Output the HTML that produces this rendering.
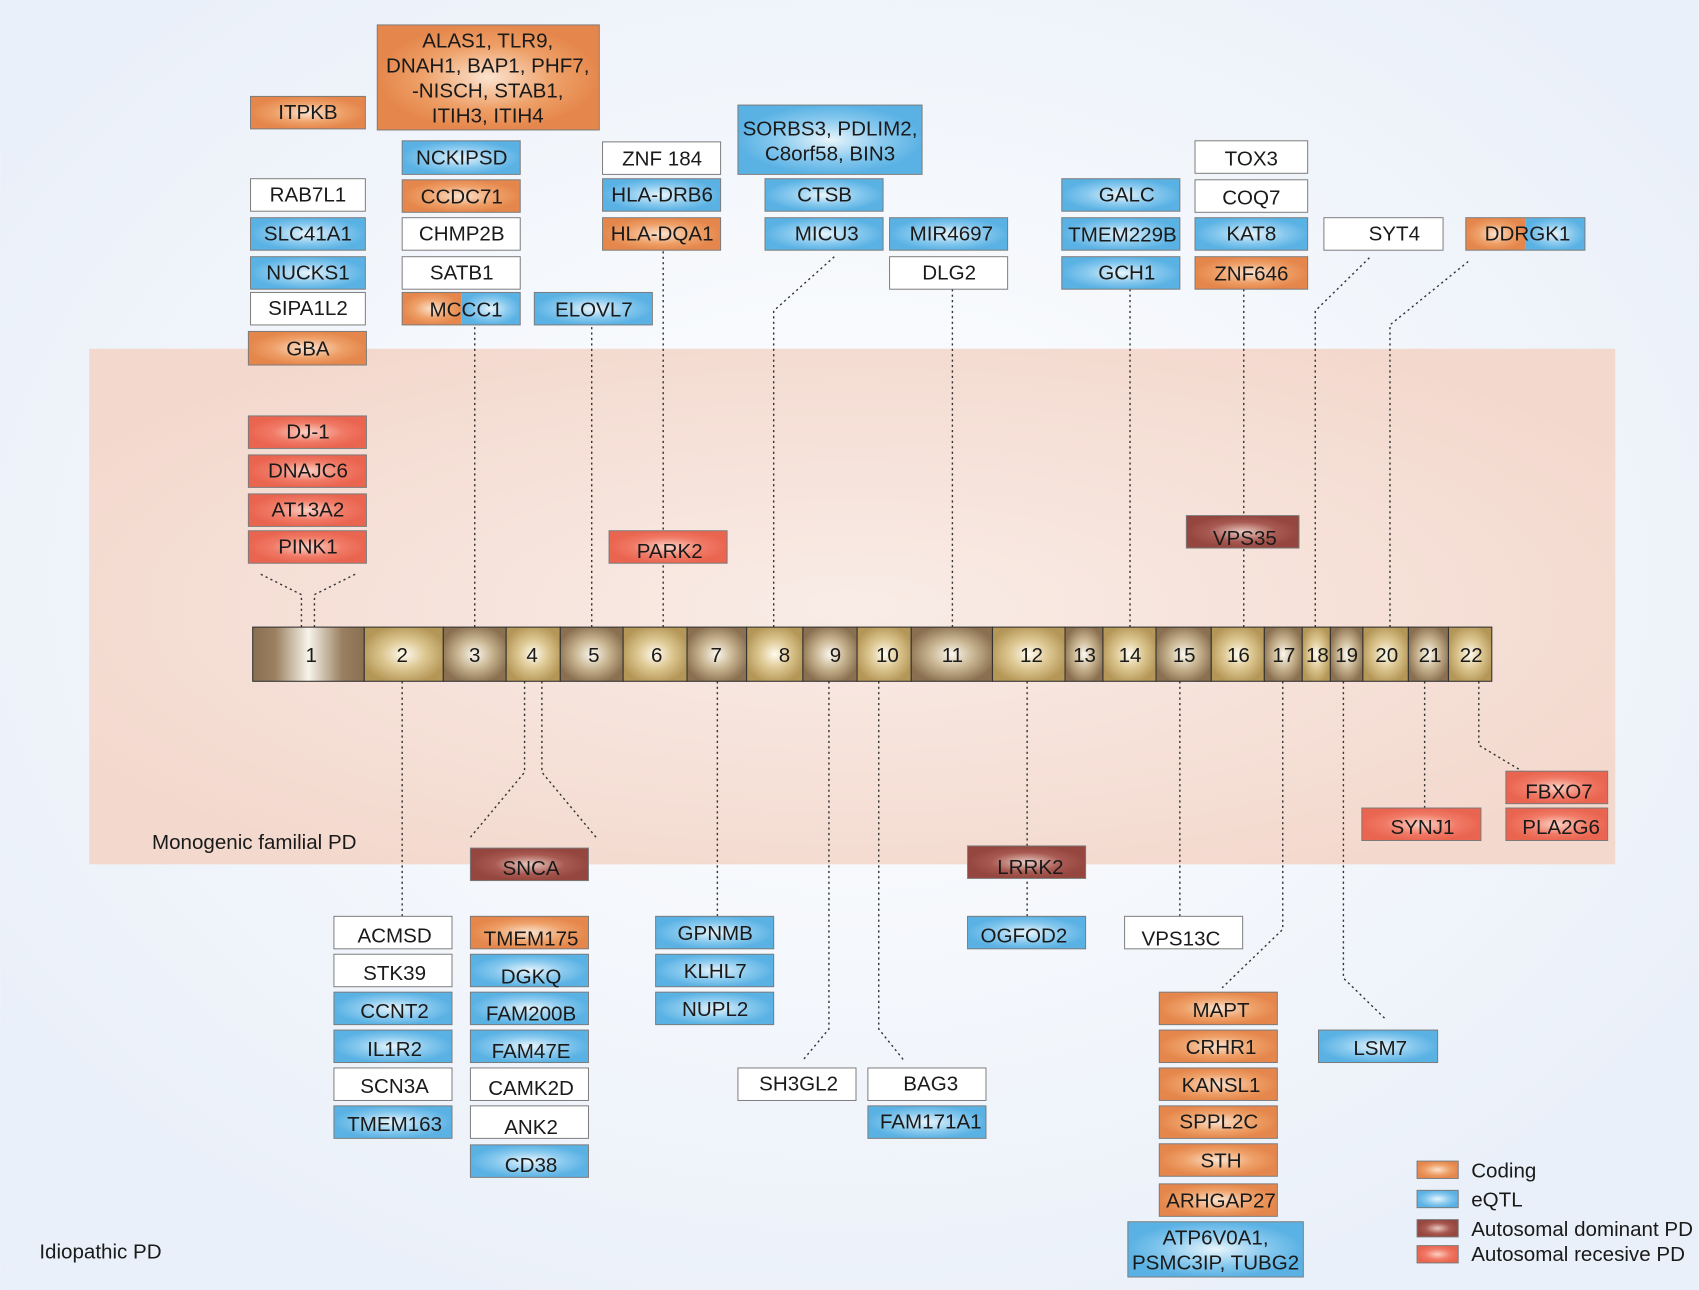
<!DOCTYPE html>
<html><head><meta charset="utf-8"><style>
html,body{margin:0;padding:0;background:#eef3fa;}
svg{display:block;}
text{font-family:"Liberation Sans",Arial,sans-serif;font-size:19px;fill:#1a1a1a;text-anchor:middle;}
.b{stroke:#7a7a7a;stroke-width:0.9;}
.d{stroke:#333;stroke-width:1.3;stroke-dasharray:2,3;fill:none;}
</style></head><body>
<svg width="1699" height="1290" viewBox="0 0 1568 1191" xmlns="http://www.w3.org/2000/svg">
<defs>
<radialGradient id="bg" cx="0.5" cy="0.45" r="0.6"><stop offset="0" stop-color="#ffffff"/><stop offset="1" stop-color="#eaf0f9"/></radialGradient>
<radialGradient id="pk" cx="0.5" cy="0.5" r="0.6"><stop offset="0" stop-color="#f9ece6"/><stop offset="1" stop-color="#f3d8cd"/></radialGradient>
<radialGradient id="o" cx="0.5" cy="0.5" r="0.5"><stop offset="0" stop-color="#fbe3cf"/><stop offset="0.6" stop-color="#eea068"/><stop offset="1" stop-color="#e5874c"/></radialGradient>
<radialGradient id="e" cx="0.5" cy="0.5" r="0.5"><stop offset="0" stop-color="#e8f5fc"/><stop offset="0.6" stop-color="#86c8ee"/><stop offset="1" stop-color="#5ab2e4"/></radialGradient>
<radialGradient id="ad" cx="0.5" cy="0.5" r="0.5"><stop offset="0" stop-color="#e8c8c0"/><stop offset="0.6" stop-color="#a85a52"/><stop offset="1" stop-color="#94463f"/></radialGradient>
<radialGradient id="ar" cx="0.5" cy="0.5" r="0.5"><stop offset="0" stop-color="#fcd0c4"/><stop offset="0.6" stop-color="#f07a66"/><stop offset="1" stop-color="#ea6550"/></radialGradient>
<radialGradient id="c1" cx="0.5" cy="0.5" r="0.55"><stop offset="0" stop-color="#fbf8f0"/><stop offset="0.5" stop-color="#c8b490"/><stop offset="1" stop-color="#8a7050"/></radialGradient>
<radialGradient id="c2" cx="0.5" cy="0.5" r="0.55"><stop offset="0" stop-color="#fffbee"/><stop offset="0.5" stop-color="#dcc690"/><stop offset="1" stop-color="#b49656"/></radialGradient>
<linearGradient id="ch1" x1="0" x2="1" y1="0" y2="0"><stop offset="0" stop-color="#8a7050"/><stop offset="0.2" stop-color="#9a8060"/><stop offset="0.5" stop-color="#f8f4ea"/><stop offset="0.8" stop-color="#9a8060"/><stop offset="1" stop-color="#8a7050"/></linearGradient>
</defs>
<rect width="1568" height="1191" fill="url(#bg)"/>
<rect x="82" y="322" width="1409" height="476" fill="url(#pk)"/>

<polyline class="d" points="278,579 278,549 240,530"/>
<polyline class="d" points="290,579 290,549 328,530"/>
<polyline class="d" points="438,579 438,300"/>
<polyline class="d" points="546,579 546,300"/>
<polyline class="d" points="612,579 612,231"/>
<polyline class="d" points="714,579 714,287 770,237"/>
<polyline class="d" points="879,579 879,267"/>
<polyline class="d" points="1043,579 1043,267"/>
<polyline class="d" points="1148,579 1148,267"/>
<polyline class="d" points="1214,579 1214,287 1265,237"/>
<polyline class="d" points="1283,579 1283,300 1357,240"/>
<polyline class="d" points="371,629 371,846"/>
<polyline class="d" points="484,629 484,713 434,773"/>
<polyline class="d" points="500,629 500,713 550,773"/>
<polyline class="d" points="662,629 662,846"/>
<polyline class="d" points="765,629 765,950 740,980"/>
<polyline class="d" points="811,629 811,950 835,980"/>
<polyline class="d" points="948,629 948,846"/>
<polyline class="d" points="1089,629 1089,846"/>
<polyline class="d" points="1184,629 1184,858 1128,912"/>
<polyline class="d" points="1240,629 1240,903 1278,940"/>
<polyline class="d" points="1315,629 1315,746"/>
<polyline class="d" points="1365,629 1365,688 1405,712"/>

<g stroke="#333" stroke-width="1">
<rect x="233" y="579" width="103" height="50" fill="url(#ch1)"/>
<rect x="336" y="579" width="73" height="50" fill="url(#c2)"/>
<rect x="409" y="579" width="58" height="50" fill="url(#c1)"/>
<rect x="467" y="579" width="50" height="50" fill="url(#c2)"/>
<rect x="517" y="579" width="58" height="50" fill="url(#c1)"/>
<rect x="575" y="579" width="59" height="50" fill="url(#c2)"/>
<rect x="634" y="579" width="55" height="50" fill="url(#c1)"/>
<rect x="689" y="579" width="52" height="50" fill="url(#c2)"/>
<rect x="741" y="579" width="50" height="50" fill="url(#c1)"/>
<rect x="791" y="579" width="50" height="50" fill="url(#c2)"/>
<rect x="841" y="579" width="75" height="50" fill="url(#c1)"/>
<rect x="916" y="579" width="67" height="50" fill="url(#c2)"/>
<rect x="983" y="579" width="35" height="50" fill="url(#c1)"/>
<rect x="1018" y="579" width="49" height="50" fill="url(#c2)"/>
<rect x="1067" y="579" width="51" height="50" fill="url(#c1)"/>
<rect x="1118" y="579" width="49" height="50" fill="url(#c2)"/>
<rect x="1167" y="579" width="35" height="50" fill="url(#c1)"/>
<rect x="1202" y="579" width="26" height="50" fill="url(#c2)"/>
<rect x="1228" y="579" width="30" height="50" fill="url(#c1)"/>
<rect x="1258" y="579" width="42" height="50" fill="url(#c2)"/>
<rect x="1300" y="579" width="37" height="50" fill="url(#c1)"/>
<rect x="1337" y="579" width="40" height="50" fill="url(#c2)"/>
</g>
<g>
<text x="287" y="611">1</text><text x="371" y="611">2</text><text x="438" y="611">3</text><text x="491" y="611">4</text><text x="548" y="611">5</text><text x="606" y="611">6</text><text x="661" y="611">7</text><text x="724" y="611">8</text><text x="771" y="611">9</text><text x="819" y="611">10</text><text x="879" y="611">11</text><text x="952" y="611">12</text><text x="1001" y="611">13</text><text x="1043" y="611">14</text><text x="1093" y="611">15</text><text x="1143" y="611">16</text><text x="1185" y="611">17</text><text x="1216" y="611">18</text><text x="1243" y="611">19</text><text x="1280" y="611">20</text><text x="1320" y="611">21</text><text x="1358" y="611">22</text>
</g>

<g class="b">
<rect x="231" y="89" width="106" height="30" fill="url(#o)"/>
<rect x="231" y="165" width="106" height="30" fill="#fff"/>
<rect x="231" y="201" width="106" height="30" fill="url(#e)"/>
<rect x="231" y="237" width="106" height="30" fill="url(#e)"/>
<rect x="231" y="270" width="106" height="30" fill="#fff"/>
<rect x="229" y="306" width="109" height="31" fill="url(#o)"/>
<rect x="229" y="384" width="109" height="30" fill="url(#ar)"/>
<rect x="229" y="420" width="109" height="30" fill="url(#ar)"/>
<rect x="229" y="456" width="109" height="30" fill="url(#ar)"/>
<rect x="229" y="490" width="109" height="30" fill="url(#ar)"/>
<rect x="348" y="23" width="205" height="97" fill="url(#o)"/>
<rect x="371" y="130" width="109" height="31" fill="url(#e)"/>
<rect x="371" y="166" width="109" height="30" fill="url(#o)"/>
<rect x="371" y="201" width="109" height="30" fill="#fff"/>
<rect x="371" y="237" width="109" height="30" fill="#fff"/>
<rect x="371" y="270" width="55" height="30" fill="url(#o)" stroke="none"/>
<rect x="426" y="270" width="54" height="30" fill="url(#e)" stroke="none"/>
<rect x="371" y="270" width="109" height="30" fill="none"/>
<rect x="493" y="270" width="109" height="30" fill="url(#e)"/>
<rect x="556" y="131" width="109" height="30" fill="#fff"/>
<rect x="556" y="165" width="109" height="30" fill="url(#e)"/>
<rect x="556" y="201" width="109" height="30" fill="url(#o)"/>
<rect x="681" y="97" width="170" height="64" fill="url(#e)"/>
<rect x="706" y="165" width="109" height="30" fill="url(#e)"/>
<rect x="706" y="201" width="109" height="30" fill="url(#e)"/>
<rect x="821" y="201" width="109" height="30" fill="url(#e)"/>
<rect x="821" y="237" width="109" height="30" fill="#fff"/>
<rect x="562" y="490" width="109" height="30" fill="url(#ar)"/>
<rect x="980" y="165" width="109" height="30" fill="url(#e)"/>
<rect x="980" y="201" width="109" height="30" fill="url(#e)"/>
<rect x="980" y="237" width="109" height="30" fill="url(#e)"/>
<rect x="1103" y="130" width="104" height="30" fill="#fff"/>
<rect x="1103" y="166" width="104" height="30" fill="#fff"/>
<rect x="1103" y="201" width="104" height="30" fill="url(#e)"/>
<rect x="1103" y="237" width="104" height="30" fill="url(#o)"/>
<rect x="1222" y="201" width="110" height="30" fill="#fff"/>
<rect x="1353" y="201" width="55" height="30" fill="url(#o)" stroke="none"/>
<rect x="1408" y="201" width="55" height="30" fill="url(#e)" stroke="none"/>
<rect x="1353" y="201" width="110" height="30" fill="none"/>
<rect x="1095" y="476" width="104" height="30" fill="url(#ad)"/>
<rect x="434" y="783" width="109" height="30" fill="url(#ad)"/>
<rect x="893" y="781" width="109" height="30" fill="url(#ad)"/>
<rect x="1390" y="712" width="94" height="30" fill="url(#ar)"/>
<rect x="1390" y="746" width="94" height="30" fill="url(#ar)"/>
<rect x="1257" y="746" width="110" height="30" fill="url(#ar)"/>
<rect x="308" y="846" width="109" height="30" fill="#fff"/>
<rect x="308" y="881" width="109" height="30" fill="#fff"/>
<rect x="308" y="916" width="109" height="30" fill="url(#e)"/>
<rect x="308" y="951" width="109" height="30" fill="url(#e)"/>
<rect x="308" y="986" width="109" height="30" fill="#fff"/>
<rect x="308" y="1021" width="109" height="30" fill="url(#e)"/>
<rect x="434" y="846" width="109" height="30" fill="url(#o)"/>
<rect x="434" y="881" width="109" height="30" fill="url(#e)"/>
<rect x="434" y="916" width="109" height="30" fill="url(#e)"/>
<rect x="434" y="951" width="109" height="30" fill="url(#e)"/>
<rect x="434" y="986" width="109" height="30" fill="#fff"/>
<rect x="434" y="1021" width="109" height="30" fill="#fff"/>
<rect x="434" y="1057" width="109" height="30" fill="url(#e)"/>
<rect x="605" y="846" width="109" height="30" fill="url(#e)"/>
<rect x="605" y="881" width="109" height="30" fill="url(#e)"/>
<rect x="605" y="916" width="109" height="30" fill="url(#e)"/>
<rect x="681" y="986" width="109" height="30" fill="#fff"/>
<rect x="801" y="986" width="109" height="30" fill="#fff"/>
<rect x="801" y="1021" width="109" height="30" fill="url(#e)"/>
<rect x="893" y="846" width="109" height="30" fill="url(#e)"/>
<rect x="1038" y="846" width="109" height="30" fill="#fff"/>
<rect x="1070" y="916" width="109" height="30" fill="url(#o)"/>
<rect x="1070" y="951" width="109" height="30" fill="url(#o)"/>
<rect x="1070" y="986" width="109" height="30" fill="url(#o)"/>
<rect x="1070" y="1021" width="109" height="30" fill="url(#o)"/>
<rect x="1070" y="1056" width="109" height="30" fill="url(#o)"/>
<rect x="1070" y="1093" width="109" height="30" fill="url(#o)"/>
<rect x="1041" y="1128" width="162" height="51" fill="url(#e)"/>
<rect x="1217" y="951" width="110" height="30" fill="url(#e)"/>
<rect x="1308" y="1072" width="38" height="16" fill="url(#o)"/>
<rect x="1308" y="1099" width="38" height="16" fill="url(#e)"/>
<rect x="1308" y="1126" width="38" height="16" fill="url(#ad)"/>
<rect x="1308" y="1150" width="38" height="16" fill="url(#ar)"/>
</g>

<g>
<text x="284" y="110">ITPKB</text>
<text x="284" y="186">RAB7L1</text>
<text x="284" y="222">SLC41A1</text>
<text x="284" y="258">NUCKS1</text>
<text x="284" y="291">SIPA1L2</text>
<text x="284" y="328">GBA</text>
<text x="284" y="405">DJ-1</text>
<text x="284" y="441">DNAJC6</text>
<text x="284" y="477">AT13A2</text>
<text x="284" y="511">PINK1</text>
<text x="450" y="44">ALAS1, TLR9,</text>
<text x="450" y="67">DNAH1, BAP1, PHF7,</text>
<text x="450" y="90">-NISCH, STAB1,</text>
<text x="450" y="113">ITIH3, ITIH4</text>
<text x="426" y="152">NCKIPSD</text>
<text x="426" y="188">CCDC71</text>
<text x="426" y="222">CHMP2B</text>
<text x="426" y="258">SATB1</text>
<text x="430" y="292">MCCC1</text>
<text x="548" y="292">ELOVL7</text>
<text x="611" y="153">ZNF 184</text>
<text x="611" y="186">HLA-DRB6</text>
<text x="611" y="222">HLA-DQA1</text>
<text x="766" y="125">SORBS3, PDLIM2,</text>
<text x="766" y="148">C8orf58, BIN3</text>
<text x="761" y="186">CTSB</text>
<text x="763" y="222">MICU3</text>
<text x="878" y="222">MIR4697</text>
<text x="876" y="258">DLG2</text>
<text x="618" y="515">PARK2</text>
<text x="1040" y="186">GALC</text>
<text x="1036" y="223">TMEM229B</text>
<text x="1040" y="258">GCH1</text>
<text x="1155" y="153">TOX3</text>
<text x="1155" y="189">COQ7</text>
<text x="1155" y="222">KAT8</text>
<text x="1155" y="259">ZNF646</text>
<text x="1287" y="222">SYT4</text>
<text x="1410" y="222">DDRGK1</text>
<text x="1149" y="503">VPS35</text>
<text x="490" y="808">SNCA</text>
<text x="951" y="807">LRRK2</text>
<text x="1439" y="737">FBXO7</text>
<text x="1441" y="770">PLA2G6</text>
<text x="1313" y="770">SYNJ1</text>
<text x="364" y="870">ACMSD</text>
<text x="364" y="905">STK39</text>
<text x="364" y="940">CCNT2</text>
<text x="364" y="975">IL1R2</text>
<text x="364" y="1009">SCN3A</text>
<text x="364" y="1044">TMEM163</text>
<text x="490" y="873">TMEM175</text>
<text x="490" y="908">DGKQ</text>
<text x="490" y="942">FAM200B</text>
<text x="490" y="977">FAM47E</text>
<text x="490" y="1011">CAMK2D</text>
<text x="490" y="1047">ANK2</text>
<text x="490" y="1082">CD38</text>
<text x="660" y="868">GPNMB</text>
<text x="660" y="903">KLHL7</text>
<text x="660" y="938">NUPL2</text>
<text x="737" y="1007">SH3GL2</text>
<text x="859" y="1007">BAG3</text>
<text x="859" y="1042">FAM171A1</text>
<text x="945" y="870">OGFOD2</text>
<text x="1090" y="873">VPS13C</text>
<text x="1127" y="939">MAPT</text>
<text x="1127" y="973">CRHR1</text>
<text x="1127" y="1008">KANSL1</text>
<text x="1125" y="1042">SPPL2C</text>
<text x="1127" y="1078">STH</text>
<text x="1127" y="1115">ARHGAP27</text>
<text x="1122" y="1149">ATP6V0A1,</text>
<text x="1122" y="1172">PSMC3IP, TUBG2</text>
<text x="1274" y="974">LSM7</text>
</g>
<g>
<text x="140" y="784" style="text-anchor:start">Monogenic familial PD</text>
<text x="36" y="1162" style="text-anchor:start">Idiopathic PD</text>
<text x="1358" y="1087" style="text-anchor:start">Coding</text>
<text x="1358" y="1114" style="text-anchor:start">eQTL</text>
<text x="1358" y="1141" style="text-anchor:start">Autosomal dominant PD</text>
<text x="1358" y="1164" style="text-anchor:start">Autosomal recesive PD</text>
</g>
</svg>
</body></html>
